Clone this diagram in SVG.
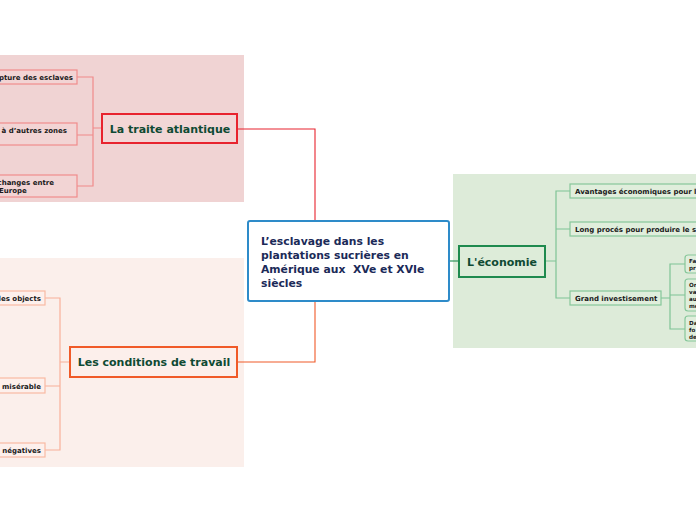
<svg xmlns="http://www.w3.org/2000/svg" width="696" height="520" viewBox="0 0 696 520">
<style>
.t{font-family:"DejaVu Sans",Verdana,sans-serif;font-weight:bold}
.main{font-size:11px;fill:#0f4a33}
.ctr{font-size:10.8px;fill:#1b2a58;white-space:pre}
.leaf{font-size:7px;fill:#1a1a1a}
.tiny{font-size:5.6px;fill:#1a1a1a}
.cr{fill:none;stroke:#e8232e;stroke-width:1.1}
.co{fill:none;stroke:#f05a28;stroke-width:1.1}
.cg{fill:none;stroke:#1e8a4e;stroke-width:1.1}
.sr{fill:none;stroke:#f08a8a;stroke-width:1.2}
.so{fill:none;stroke:#f8b09a;stroke-width:1.2}
.sg{fill:none;stroke:#7fc495;stroke-width:1.2}
.lr{fill:#f2d4d4;stroke:#f08c8c;stroke-width:1.2}
.lo{fill:#fdf0ec;stroke:#f9b9a3;stroke-width:1.2}
.lg{fill:#e0eedc;stroke:#86c79a;stroke-width:1.2}
</style>
<rect width="696" height="520" fill="#ffffff"/>
<rect x="0" y="55" width="244" height="147" fill="#f0d3d3"/>
<rect x="0" y="258" width="244" height="209" fill="#fbefeb"/>
<rect x="453" y="174" width="243" height="174" fill="#ddebd9"/>
<g id="connectors">
<path class="cr" d="M315,221 V129 H237"/>
<path class="co" d="M315,301 V362 H237"/>
<path class="cg" d="M449,261 H459"/>
<path class="sr" d="M102,128 H93 M77,77 H93 V186 H77 M77,135 H93"/>
<path class="so" d="M70,362 H60 M45,298 H60 V450 H45 M45,386 H60"/>
<path class="sg" d="M545,261 H556 M570,191 H556 V298 H570 M570,229 H556"/>
<path class="sg" d="M661,298 H670 M685,264 H670 V329 H685 M685,295 H670"/>
</g>
<g id="center">
<rect x="248" y="221" width="201" height="80" rx="2" fill="#ffffff" stroke="#2e8bc9" stroke-width="2"/>
<text class="t ctr" x="261" y="245">L’esclavage dans les</text>
<text class="t ctr" x="261" y="259">plantations sucrières en</text>
<text class="t ctr" x="261" y="273" xml:space="preserve">Amérique aux  XVe et XVIe</text>
<text class="t ctr" x="261" y="287">siècles</text>
</g>
<g id="traite">
<rect x="102" y="114" width="135" height="29" fill="#f2d6d6" stroke="#e8232e" stroke-width="2"/>
<text class="t main" x="170" y="133" text-anchor="middle">La traite atlantique</text>
</g>
<g id="traite1">
<rect class="lr" x="-5" y="70" width="82" height="14"/>
<text class="t leaf" x="73" y="80" text-anchor="end">pture des esclaves</text>
</g>
<g id="traite2">
<rect class="lr" x="-5" y="123" width="82" height="22"/>
<text class="t leaf" x="67" y="133" text-anchor="end">à d’autres zones</text>
</g>
<g id="traite3">
<rect class="lr" x="-5" y="175" width="82" height="22"/>
<text class="t leaf" x="54" y="185" text-anchor="end">changes entre</text>
<text class="t leaf" x="-1" y="193">Europe</text>
</g>
<g id="conditions">
<rect x="70" y="347" width="167" height="30" fill="#fcefeb" stroke="#f05a28" stroke-width="2"/>
<text class="t main" x="154" y="366" text-anchor="middle">Les conditions de travail</text>
</g>
<g id="cond1">
<rect class="lo" x="-5" y="291" width="50" height="14"/>
<text class="t leaf" x="41" y="301" text-anchor="end">les objects</text>
</g>
<g id="cond2">
<rect class="lo" x="-5" y="378" width="50" height="15"/>
<text class="t leaf" x="41" y="389" text-anchor="end">misérable</text>
</g>
<g id="cond3">
<rect class="lo" x="-5" y="443" width="50" height="14"/>
<text class="t leaf" x="41" y="453" text-anchor="end">négatives</text>
</g>
<g id="economie">
<rect x="459" y="246" width="86" height="31" fill="#ddecd9" stroke="#1e8a4e" stroke-width="2"/>
<text class="t main" x="502" y="266" text-anchor="middle">L'économie</text>
</g>
<g id="eco1">
<rect class="lg" x="570" y="184" width="140" height="14"/>
<text class="t leaf" x="575" y="194">Avantages économiques pour l</text>
</g>
<g id="eco2">
<rect class="lg" x="570" y="222" width="140" height="14"/>
<text class="t leaf" x="575" y="232">Long procés pour produire le s</text>
</g>
<g id="eco3">
<rect class="lg" x="570" y="291" width="91" height="14"/>
<text class="t leaf" x="575" y="301">Grand investisement</text>
</g>
<g id="inv1">
<rect class="lg" x="685" y="255" width="30" height="18" rx="3"/>
<text class="t tiny" x="689" y="263">Fa</text>
<text class="t tiny" x="689" y="270">pr</text>
</g>
<g id="inv2">
<rect class="lg" x="685" y="279" width="30" height="32" rx="3"/>
<text class="t tiny" x="689" y="287">Or</text>
<text class="t tiny" x="689" y="294">va</text>
<text class="t tiny" x="689" y="301">au</text>
<text class="t tiny" x="689" y="308">me</text>
</g>
<g id="inv3">
<rect class="lg" x="685" y="316" width="30" height="25" rx="3"/>
<text class="t tiny" x="689" y="325">Da</text>
<text class="t tiny" x="689" y="332">fo</text>
<text class="t tiny" x="689" y="339">de</text>
</g>
</svg>
